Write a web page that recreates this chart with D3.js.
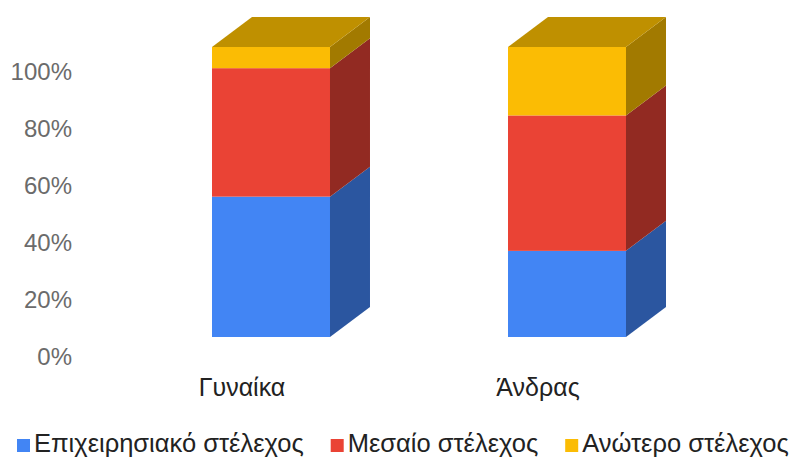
<!DOCTYPE html>
<html>
<head>
<meta charset="utf-8">
<script src="https://cdn.jsdelivr.net/npm/d3@7"></script>
<style>
  html, body { margin: 0; padding: 0; background: #fff; }
  svg { display: block; font-family: "Liberation Sans", Arial, sans-serif; }
</style>
</head>
<body>
<svg id="chart" width="794" height="459"></svg>
<script>
// Job level shares by gender (fractions of each bar)
const categories = ["Γυναίκα", "Άνδρας"];
const seriesNames = ["Επιχειρησιακό στέλεχος", "Μεσαίο στέλεχος", "Ανώτερο στέλεχος"];
const operational = [0.484, 0.297];
const middle = [0.443, 0.467];
const senior = [0.073, 0.236];
const tickValues = [0, 0.2, 0.4, 0.6, 0.8, 1.0];

const frontColors = ["#4285F4", "#EA4335", "#FBBC04"];
const sideColors = ["#2B56A0", "#922A22", "#A27A00"];
const topColors = ["#2F63BA", "#B0332A", "#BF9000"];

const svg = d3.select("#chart");
const depth = { dx: 40, dy: -30 };

const x = d3.scaleBand().domain(categories).range([64, 774])
  .paddingInner(0.6014).paddingOuter(0.5);
// front face of the bars
const y = d3.scaleLinear().domain([0, 1]).range([337, 47]);
// axis labels sit on the floor plane of the box
const yAxisScale = d3.scaleLinear().domain([0, 1]).range([357, 72]);

const rows = categories.map((c, i) => ({ cat: c, vals: [operational[i], middle[i], senior[i]] }));
const stack = d3.stack().keys([0, 1, 2]).value((d, k) => d.vals[k]);
const layers = stack(rows);

// y axis labels
const yAxis = d3.axisLeft(yAxisScale).tickValues(tickValues)
  .tickFormat(d3.format(".0%")).tickSize(0).tickPadding(0);
const gy = svg.append("g").attr("transform", "translate(72,0)").call(yAxis);
gy.select(".domain").remove();
gy.selectAll("text").attr("font-size", 24).attr("fill", "#6b6b6b")
  .attr("font-family", "\"Liberation Sans\", Arial, sans-serif");

// bars
const bars = svg.append("g");
rows.forEach((row, i) => {
  const x0 = x(row.cat), x1 = x0 + x.bandwidth();
  const g = bars.append("g");
  layers.forEach((layer, k) => {
    const [v0, v1] = layer[i];
    const yb = y(v0), yt = y(v1);
    g.append("rect").attr("x", x0).attr("y", yt).attr("width", x1 - x0).attr("height", yb - yt)
      .attr("fill", frontColors[k]);
    g.append("polygon")
      .attr("points", [[x1, yt], [x1 + depth.dx, yt + depth.dy], [x1 + depth.dx, yb + depth.dy], [x1, yb]].join(" "))
      .attr("fill", sideColors[k]);
  });
  const last = layers.length - 1;
  const ytop = y(layers[last][i][1]);
  g.append("polygon")
    .attr("points", [[x0, ytop], [x0 + depth.dx, ytop + depth.dy], [x1 + depth.dx, ytop + depth.dy], [x1, ytop]].join(" "))
    .attr("fill", topColors[last]);
});

// category labels
svg.append("g").selectAll("text").data(categories).join("text")
  .attr("x", d => x(d) + x.bandwidth() / 2 - 29)
  .attr("y", 396)
  .attr("text-anchor", "middle")
  .attr("font-size", 25)
  .attr("fill", "#222")
  .text(d => d);

// legend
const legend = svg.append("g").attr("transform", "translate(17,0)");
let lx = 0;
seriesNames.forEach((name, k) => {
  const item = legend.append("g").attr("transform", `translate(${lx},0)`);
  item.append("rect").attr("x", 0).attr("y", 439).attr("width", 13).attr("height", 13)
    .attr("fill", frontColors[k]);
  const t = item.append("text").attr("x", 17).attr("y", 452)
    .attr("font-size", 25.5).attr("fill", "#222").text(name);
  lx += 17 + t.node().getComputedTextLength() + 27;
});
</script>
</body>
</html>
